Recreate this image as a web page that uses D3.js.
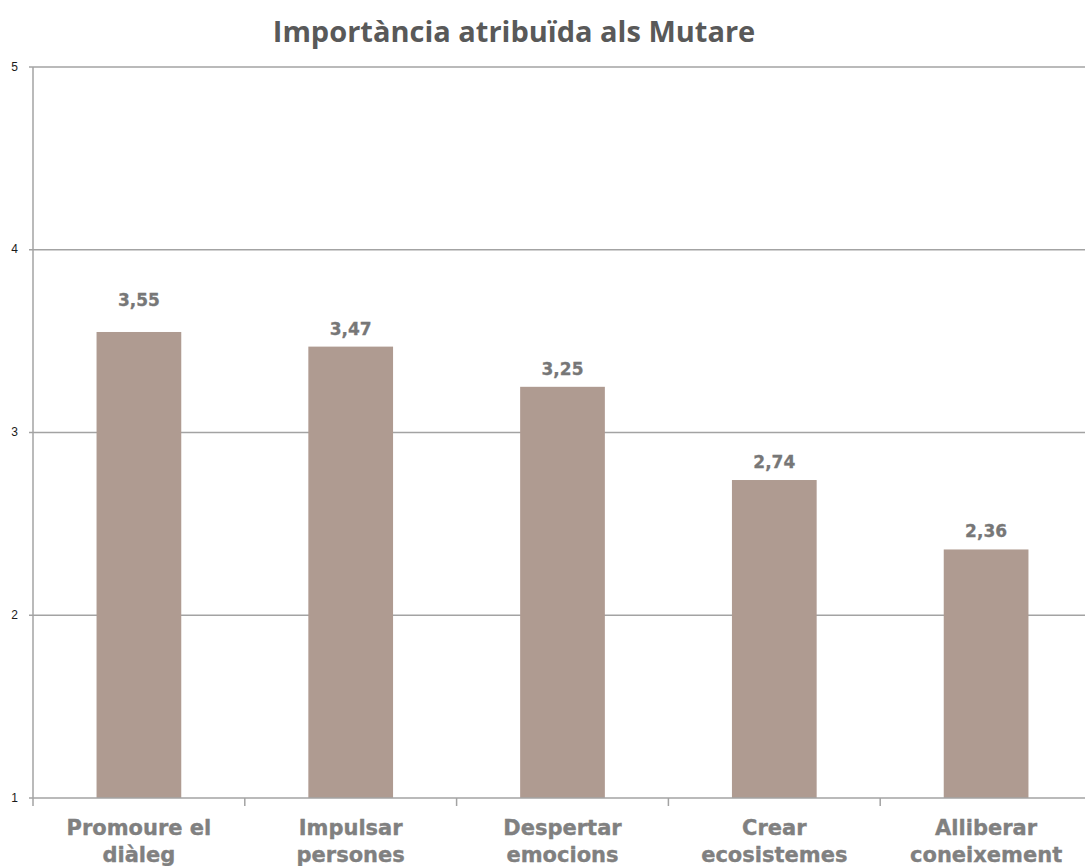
<!DOCTYPE html>
<html>
<head>
<meta charset="utf-8">
<script src="https://d3js.org/d3.v7.min.js"></script>
<style>
body { margin: 0; background: #fff; }
.title { font: bold 29px "Open Sans", sans-serif; fill: #595959; }
.ytick { font: 12px "Liberation Sans", Arial, sans-serif; fill: #1a1a1a; }
.value { font: bold 17px "DejaVu Sans", sans-serif; fill: #777; stroke: #777; stroke-width: 0.3px; }
.cat { font: bold 21px "DejaVu Sans", sans-serif; fill: #808080; stroke: #808080; stroke-width: 0.35px; }
</style>
</head>
<body>
<script>
var categories = [["Promoure el", "diàleg"], ["Impulsar", "persones"], ["Despertar", "emocions"], ["Crear", "ecosistemes"], ["Alliberar", "coneixement"]];
var values = [3.55, 3.47, 3.25, 2.74, 2.36];
var yTicks = [1, 2, 3, 4, 5];
var title = "Importància atribuïda als Mutare";

var width = 1085, height = 866;
var x0 = 33, x1 = 1092, yTop = 67, yBottom = 798;
// distance from bar top to label baseline (first one sits higher in the original)
var labelGap = [26, 12, 12, 12, 12];

var svg = d3.select("body").append("svg")
    .attr("width", width)
    .attr("height", height);

var xScale = d3.scaleBand()
    .domain(d3.range(categories.length))
    .range([x0, x1])
    .padding(0);

var yScale = d3.scaleLinear()
    .domain([1, 5])
    .range([yBottom, yTop]);

// gridlines
svg.append("g").selectAll("line")
    .data(yTicks.slice(1))
  .enter().append("line")
    .attr("x1", x0 - 4)
    .attr("x2", width)
    .attr("y1", function(d) { return yScale(d); })
    .attr("y2", function(d) { return yScale(d); })
    .attr("stroke", "#a3a3a3")
    .attr("stroke-width", 1.5);

// y tick labels
svg.append("g").selectAll("text")
    .data(yTicks)
  .enter().append("text")
    .attr("class", "ytick")
    .attr("x", 14.5)
    .attr("y", function(d) { return yScale(d); })
    .attr("dy", "0.3em")
    .style("text-anchor", "middle")
    .text(function(d) { return d; });

// bars
var bw = xScale.bandwidth();
svg.append("g").selectAll("rect")
    .data(values)
  .enter().append("rect")
    .attr("x", function(d, i) { return xScale(i) + bw * 0.3; })
    .attr("width", bw * 0.4)
    .attr("y", function(d) { return yScale(d); })
    .attr("height", function(d) { return yBottom - yScale(d); })
    .attr("fill", "#af9b91");

// value labels
svg.append("g").selectAll("text")
    .data(values)
  .enter().append("text")
    .attr("class", "value")
    .attr("x", function(d, i) { return xScale(i) + bw / 2; })
    .attr("y", function(d, i) { return yScale(d) - labelGap[i]; })
    .style("text-anchor", "middle")
    .text(function(d) { return d.toFixed(2).replace(".", ","); });

// y axis line
svg.append("line")
    .attr("x1", x0).attr("x2", x0)
    .attr("y1", yTop).attr("y2", yBottom + 8)
    .attr("stroke", "#a3a3a3")
    .attr("stroke-width", 1.5);

// x axis line + ticks
svg.append("line")
    .attr("x1", x0 - 4).attr("x2", width)
    .attr("y1", yBottom).attr("y2", yBottom)
    .attr("stroke", "#a3a3a3")
    .attr("stroke-width", 1.5);

svg.append("g").selectAll("line")
    .data(d3.range(1, categories.length))
  .enter().append("line")
    .attr("x1", function(d) { return xScale(d); })
    .attr("x2", function(d) { return xScale(d); })
    .attr("y1", yBottom)
    .attr("y2", yBottom + 8)
    .attr("stroke", "#a3a3a3")
    .attr("stroke-width", 1.5);

// category labels
var cat = svg.append("g").selectAll("text")
    .data(categories)
  .enter().append("text")
    .attr("class", "cat")
    .style("text-anchor", "middle");
cat.each(function(lines, i) {
  var t = d3.select(this);
  lines.forEach(function(s, j) {
    t.append("tspan")
      .attr("x", xScale(i) + bw / 2)
      .attr("y", 835 + j * 27)
      .text(s);
  });
});

svg.append("text")
    .attr("class", "title")
    .attr("x", 514)
    .attr("y", 42)
    .style("text-anchor", "middle")
    .text(title);
</script>
</body>
</html>
